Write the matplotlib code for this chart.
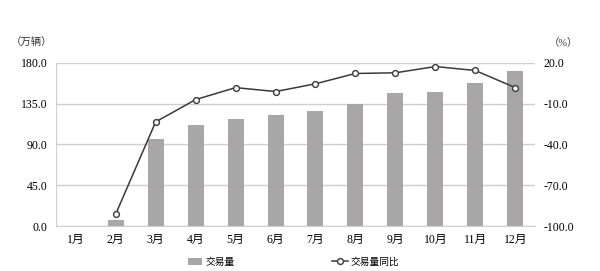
import matplotlib
matplotlib.use("Agg")
import matplotlib.pyplot as plt
import numpy as np

plt.rcParams['font.family'] = ['Liberation Serif', 'Noto Sans CJK SC', 'DejaVu Sans']

# 数据
months = ['1月', '2月', '3月', '4月', '5月', '6月', '7月', '8月', '9月', '10月', '11月', '12月']
volume = [0, 7, 95.7, 111.8, 117.7, 122.8, 126.9, 134.3, 147.2, 148.3, 158.2, 171.0]
yoy = [np.nan, -91.2, -23.4, -7.0, 1.8, -1.1, 4.6, 12.2, 12.7, 17.3, 14.4, 1.8]
left_ticks = [0, 45, 90, 135, 180]
right_ticks = [-100, -70, -40, -10, 20]

fig = plt.figure(figsize=(6, 2.71), dpi=100)
ax = fig.add_axes([0.093, 0.166, 0.799, 0.602])
x = np.arange(len(months))

bars = ax.bar(x, volume, width=0.4, color='#a8a6a6', zorder=2, label='交易量')
ax.set_xlim(-0.5, 11.5)
ax.set_ylim(0, 180)
ax.set_yticks(left_ticks)
ax.set_yticklabels(['%.1f' % v for v in left_ticks], fontsize=8.5)
ax.set_xticks(x)
ax.set_xticklabels(months, fontsize=8.5)
ax.tick_params(length=0, pad=6)
ax.grid(axis='y', color='#cfcfcf', linewidth=1, zorder=0)
for s in ['top', 'right']:
    ax.spines[s].set_visible(False)
ax.spines['left'].set_color('#cfcfcf')
ax.spines['bottom'].set_color('#cfcfcf')

ax2 = ax.twinx()
line, = ax2.plot(x, yoy, color='#3a3a3a', linewidth=1.1, marker='o', markersize=4.2,
                 markerfacecolor='white', markeredgecolor='#3a3a3a', markeredgewidth=1,
                 zorder=3, label='交易量同比')
ax2.set_ylim(-100, 20)
ax2.set_yticks(right_ticks)
ax2.set_yticklabels(['%.1f' % v for v in right_ticks], fontsize=8.5)
ax2.tick_params(length=0, pad=6)
for s in ['top', 'right', 'left', 'bottom']:
    ax2.spines[s].set_visible(False)

fig.text(0.018, 0.83, '（万辆）', fontsize=7.5, color='#333333')
fig.text(0.915, 0.83, '（%）', fontsize=7.5, color='#333333')

fig.legend([bars], ['交易量'], loc='center left', bbox_to_anchor=(0.313, 0.033),
           frameon=False, fontsize=7, handlelength=1.45, handletextpad=0.4,
           borderpad=0, borderaxespad=0)
fig.legend([line], ['交易量同比'], loc='center left', bbox_to_anchor=(0.553, 0.033),
           frameon=False, fontsize=7, handlelength=1.65, handletextpad=0.3,
           borderpad=0, borderaxespad=0)

fig.savefig('out.png', dpi=100)
